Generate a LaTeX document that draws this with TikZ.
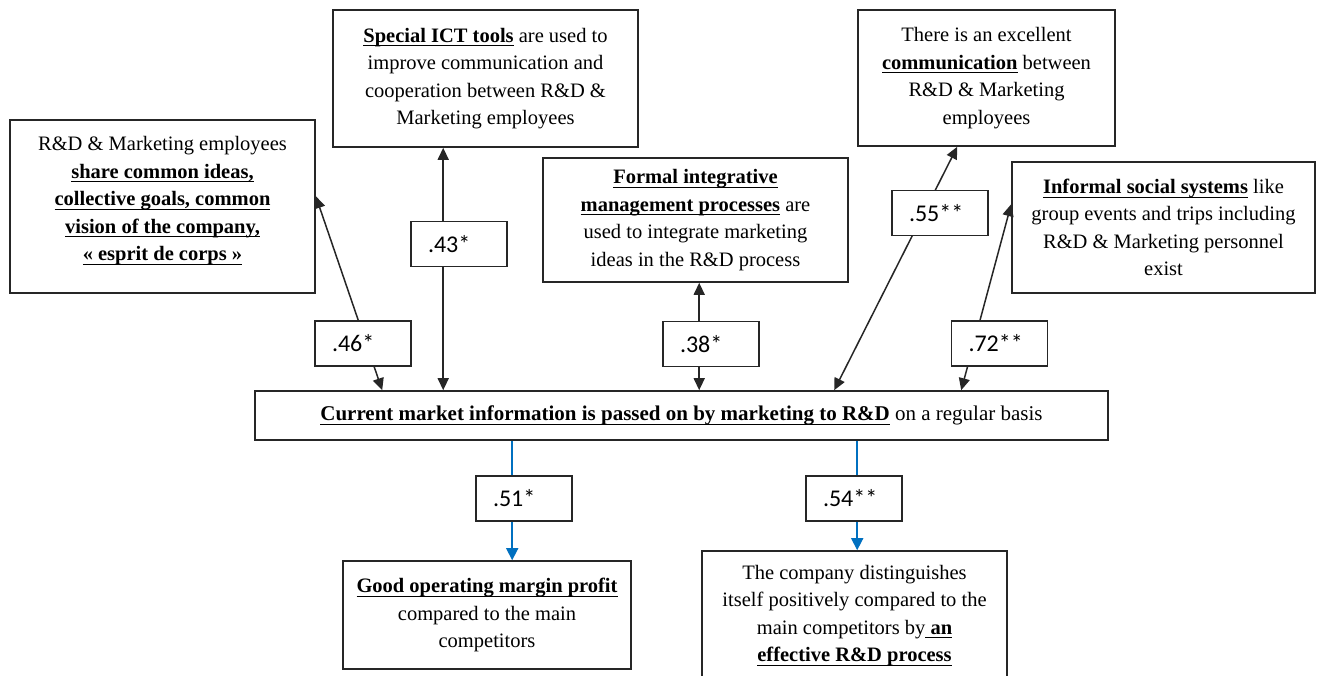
\documentclass[tikz,border=0pt]{standalone}
\usepackage{fontspec}
\setmainfont{Liberation Serif}
\newfontfamily\labfont{Carlito}
\usetikzlibrary{arrows.meta}
\newsavebox{\ulbox}
\newcommand{\bu}[1]{\sbox{\ulbox}{\textbf{#1}}\rlap{\rule[-4.3pt]{\wd\ulbox}{1.1pt}}\usebox{\ulbox}}
\definecolor{lineblue}{RGB}{0,112,192}
\begin{document}
\begin{tikzpicture}[x=1pt,y=-1pt,
  box/.style={draw=black!85, line width=1.6pt, inner sep=0pt, align=center,
    font=\fontsize{20.5}{27.5}\selectfont},
  lab/.style={draw=black!85, fill=white, line width=1.6pt, minimum width=96pt,
    minimum height=45pt, inner sep=0pt, text width=62pt, align=left,
    font=\labfont\fontsize{24}{28}\selectfont},
  arr/.style={{Triangle[length=12pt,width=11pt]}-{Triangle[length=12pt,width=11pt]},
    draw=black!85, line width=1.5pt},
  barr/.style={-{Triangle[length=12pt,width=12pt]}, draw=lineblue, line width=1.6pt}]
\useasboundingbox (0,0) rectangle (1317,675);
\clip (0,0) rectangle (1317,675);
\fill[white] (0,0) rectangle (1317,675);

% boxes
\node[box, minimum width=305pt, minimum height=173pt, text depth=16pt] (L) at (162.5,206.5)
  {R\&D \& Marketing employees\\ \bu{share common ideas,}\\ \bu{collective goals, common}\\
   \bu{vision of the company,}\\ \bu{« esprit de corps »}};
\node[box, minimum width=305pt, minimum height=137pt] (ICT) at (485.5,78.5)
  {\bu{Special ICT tools} are used to\\ improve communication  and\\
   cooperation between R\&D \&\\ Marketing employees};
\node[box, minimum width=257pt, minimum height=136pt] (COM) at (986.5,78)
  {There is an excellent\\ \bu{communication} between\\ R\&D \& Marketing\\ employees};
\node[box, minimum width=303pt, minimum height=131pt] (INF) at (1163.5,227.5)
  {\bu{Informal social systems} like\\ group events and trips including\\
   R\&D \& Marketing personnel\\ exist};
\node[box, minimum width=305pt, minimum height=124pt] (FOR) at (695.5,220)
  {\bu{Formal integrative}\\ \bu{management processes} are\\
   used to integrate marketing\\ ideas in the R\&D process};
\node[box, minimum width=853pt, minimum height=49pt, font=\fontsize{21}{27.5}\selectfont] (C) at (681.5,415.5)
  {\bu{Current market information is passed on by marketing to R\&D} on a regular basis};
\node[box, minimum width=288pt, minimum height=108pt] (BL) at (487,615)
  {\bu{Good operating margin profit}\\ compared to the main\\ competitors};
\node[box, minimum width=305pt, minimum height=129pt] (BR) at (854.5,615.5)
  {The company distinguishes\\ itself positively compared  to the\\
   main competitors  by\bu{\ an}\\ \bu{effective R\&D process}};

% connectors
\draw[arr] ([xshift=128pt]C.north west) -- ([yshift=-77pt]L.north east);
\draw[arr] ([xshift=189pt]C.north west) -- ([xshift=111pt]ICT.south west);
\draw[arr] ([xshift=445pt]C.north west) -- ([xshift=157pt]FOR.south west);
\draw[arr] ([xshift=580pt]C.north west) -- ([xshift=100pt]COM.south west);
\draw[arr] ([xshift=707pt]C.north west) -- ([yshift=-43pt]INF.north west);
\draw[barr] ([xshift=258pt]C.south west) -- ([xshift=170pt]BL.north west);
\draw[barr] ([xshift=603pt]C.south west) -- ([xshift=156pt]BR.north west);

% labels
\node[lab] (l46) at (363,343.5) {.46*};
\node[lab] (l43) at (459,244) {.43*};
\node[lab] (l38) at (711,344) {.38*};
\node[lab] (l55) at (940,213) {.55**};
\node[lab] (l72) at (999.5,343.5) {.72**};
\node[lab] (l51) at (524,498.5) {.51*};
\node[lab] (l54) at (854,498.5) {.54**};
\end{tikzpicture}
\end{document}
